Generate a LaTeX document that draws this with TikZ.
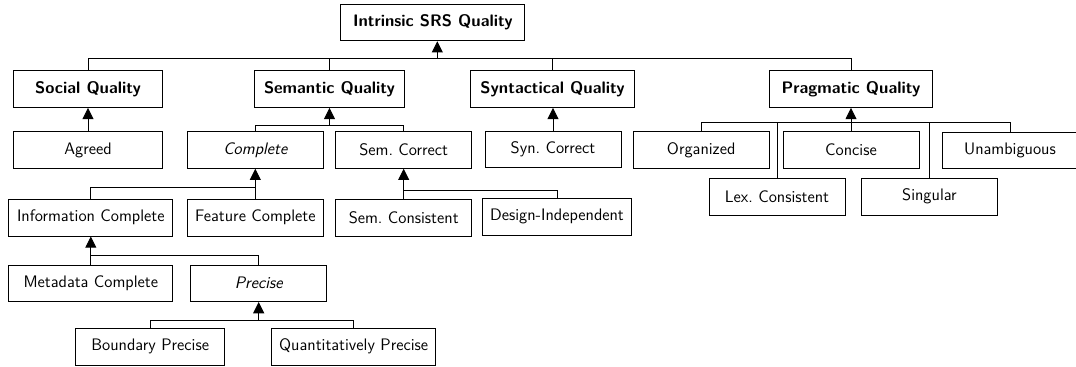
\documentclass[tikz,border=0pt]{standalone}
\usetikzlibrary{arrows.meta}
\begin{document}
\frenchspacing
\begin{tikzpicture}[x=0.75pt,y=-0.75pt,
  box/.style={draw, line width=0.7pt, minimum height=27.45pt, inner sep=0pt,
    font=\sffamily\fontsize{12.5}{14}\selectfont},
  head/.style={box, font=\sffamily\bfseries\fontsize{12.5}{14}\selectfont},
  wA/.style={minimum width=102pt},
  wB/.style={minimum width=112pt},
  wC/.style={minimum width=122.8pt},
  link/.style={line width=0.7pt},
  up/.style={link, -{Triangle[width=8.2pt,length=8.4pt]}}]
\useasboundingbox (0,0) rectangle (1076,367);

% root and first level
\node[head, minimum width=138.2pt] (intr) at (432.8,22.5) {Intrinsic SRS Quality};
\node[head, wB] (social)   at (88,89.2)    {Social Quality};
\node[head, wB] (semantic) at (329.5,89.2) {Semantic Quality};
\node[head, wC] (syntact)  at (552.5,89.2) {Syntactical Quality};
\node[head, wC] (pragm)    at (851,89.2)   {Pragmatic Quality};

% second level
\node[box, wB] (agreed)    at (88,150)     {Agreed};
\node[box, wA] (complete)  at (255.3,150)  {\itshape Complete};
\node[box, wA] (semcorr)   at (403.7,150)  {Sem. Correct};
\node[box, wA] (syncorr)   at (553,149.5)  {Syn. Correct};
\node[box, wA] (organized) at (701.2,150)  {Organized};
\node[box, wA] (concise)   at (851,150)    {Concise};
\node[box, wA] (unamb)     at (1010,150.5) {Unambiguous};
\node[box, wA] (lex)       at (777,196.7)  {Lex. Consistent};
\node[box, wA] (singular)  at (929.5,196.7) {Singular};

% third level
\node[box, wC] (infocomp)  at (90.8,217.7)  {Information Complete};
\node[box, wA] (featcomp)  at (255.3,217.7) {Feature Complete};
\node[box, wA] (semcons)   at (403.7,217.7) {Sem. Consistent};
\node[box, wB] (designind) at (557,216.7)   {Design-Independent};

% fourth and fifth level
\node[box, wC] (metadata)  at (90.8,283.3)  {Metadata Complete};
\node[box, wA] (precise)   at (258.7,283.3) {\itshape Precise};
\node[box, wB] (boundary)  at (150.2,346.8) {Boundary Precise};
\node[box, wC] (quant)     at (353.7,346.7) {Quantitatively Precise};

% junction points of the tree buses
\coordinate (t0) at (437.3,58.7);
\coordinate (t1) at (329.5,125);
\coordinate (t2) at (851,122.7);
\coordinate (t3) at (255.3,187);
\coordinate (t4) at (403.7,190);
\coordinate (t5) at (90.8,255.3);
\coordinate (t6) at (258.7,320.5);

% Intrinsic SRS Quality
\draw[link] (social.north) -- (social.north |- t0) -- (pragm.north |- t0) -- (pragm.north);
\draw[link] (semantic.north) -- (semantic.north |- t0);
\draw[link] (syntact.north) -- (syntact.north |- t0);
\draw[up] (t0) -- (t0 |- intr.south);

% Social and Syntactical Quality
\draw[up] (agreed.north) -- (social.south);
\draw[up] (syncorr.north) -- (syncorr.north |- syntact.south);

% Semantic Quality
\draw[link] (complete.north) -- (complete.north |- t1) -- (semcorr.north |- t1) -- (semcorr.north);
\draw[up] (t1) -- (semantic.south);

% Pragmatic Quality
\draw[link] (organized.north) -- (organized.north |- t2) -- (unamb.north |- t2) -- (unamb.north);
\draw[link] (lex.north) -- (lex.north |- t2);
\draw[link] (singular.north) -- (singular.north |- t2);
\draw[link] (concise.north) -- (t2);
\draw[up] (t2) -- (pragm.south);

% Complete
\draw[link] (infocomp.north) -- (infocomp.north |- t3) -- (t3);
\draw[link] (featcomp.north) -- (t3);
\draw[up] (t3) -- (complete.south);

% Sem. Correct
\draw[link] (semcons.north) -- (t4) -- (designind.north |- t4) -- (designind.north);
\draw[up] (t4) -- (semcorr.south);

% Information Complete
\draw[link] (metadata.north) -- (t5) -- (precise.north |- t5) -- (precise.north);
\draw[up] (t5) -- (infocomp.south);

% Precise
\draw[link] (boundary.north) -- (boundary.north |- t6) -- (quant.north |- t6) -- (quant.north);
\draw[up] (t6) -- (precise.south);
\end{tikzpicture}
\end{document}
